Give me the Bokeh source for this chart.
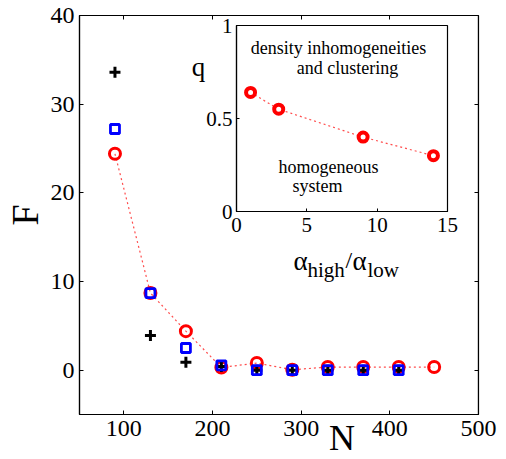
import math
from bokeh.plotting import figure
from bokeh.models import (Range1d, LinearAxis, FixedTicker, Label)
from bokeh.embed import file_html
from bokeh.resources import INLINE

# ---------------- data ----------------
N_circle = [90, 130, 170, 210, 250, 290, 330, 370, 410, 450]
F_circle = [24.4, 8.7, 4.4, 0.3, 0.8, 0.05, 0.35, 0.35, 0.35, 0.35]
N_square = [90, 130, 170, 210, 250, 290, 330, 370, 410]
F_square = [27.2, 8.7, 2.5, 0.55, 0.0, 0.0, 0.0, 0.0, 0.0]
N_plus = [90, 130, 170, 210, 250, 290, 330, 370, 410]
F_plus = [33.6, 3.9, 0.9, 0.4, 0.0, 0.0, 0.0, 0.0, 0.0]

alpha_ratio = [1, 3, 9, 14]
q_values = [0.64, 0.55, 0.40, 0.30]

x_ticks = [100, 200, 300, 400, 500]
y_ticks = [0, 10, 20, 30, 40]
x_lim = [50, 500]
y_lim = [-5, 40]
inset_x_ticks = [0, 5, 10, 15]
inset_y_ticks = [0, 0.5, 1]
inset_y_labels = ["0", "0.5", "1"]
inset_x_lim = [0, 15]
inset_y_lim = [0, 1]

FONT = "Liberation Serif"

# ---------------- layout (pixels) ----------------
FL, FT, FW, FH = 79, 15, 399, 399          # main frame in figure pixels
IL, IT, IR, IB = 236, 25, 447, 211         # inset frame in figure pixels
W, H = 506, 459

p = figure(frame_width=FW, frame_height=FH,
           x_range=tuple(x_lim), y_range=tuple(y_lim),
           min_border_left=FL, min_border_top=FT,
           min_border_right=W - FL - FW, min_border_bottom=H - FT - FH,
           output_backend="svg", toolbar_location=None)
p.xgrid.visible = False
p.ygrid.visible = False
p.outline_line_color = "black"
p.outline_line_width = 1.2
p.background_fill_color = "white"
p.border_fill_color = "white"

def px2x(px):
    return x_lim[0] + (px - FL) * (x_lim[1] - x_lim[0]) / FW

def px2y(py):
    return y_lim[1] - (py - FT) * (y_lim[1] - y_lim[0]) / FH

def style_axis(ax, ticks, size="24px", tick_in=4, standoff=5):
    ax.ticker = FixedTicker(ticks=ticks)
    ax.major_tick_in = tick_in
    ax.major_tick_out = 0
    ax.minor_tick_in = 0
    ax.minor_tick_out = 0
    ax.axis_line_color = "black"
    ax.axis_line_width = 1.2
    ax.major_tick_line_width = 1
    ax.major_label_text_font = FONT
    ax.major_label_text_font_size = size
    ax.major_label_text_color = "black"
    ax.major_label_standoff = standoff

style_axis(p.xaxis[0], x_ticks, standoff=6)
style_axis(p.yaxis[0], y_ticks, standoff=5)

# axis titles (N sits right of centre in the reference -> pad with no-break spaces)
for ax in (p.xaxis[0], p.yaxis[0]):
    ax.axis_label_text_font = FONT
    ax.axis_label_text_font_style = "normal"
    ax.axis_label_text_color = "black"
p.xaxis[0].axis_label = "\u00a0" * 14 + "N"
p.xaxis[0].axis_label_text_font_size = "36px"
p.xaxis[0].axis_label_standoff = -21
p.yaxis[0].axis_label = "F"
p.yaxis[0].axis_label_text_font_size = "38px"
p.yaxis[0].axis_label_standoff = 2

# mirror ticks on top/right
top = LinearAxis(fixed_location=y_lim[1])
style_axis(top, x_ticks)
top.major_label_overrides = {t: "" for t in x_ticks}
p.add_layout(top, "above")
right = LinearAxis(fixed_location=x_lim[1])
style_axis(right, y_ticks)
right.major_label_overrides = {t: "" for t in y_ticks}
p.add_layout(right, "right")

# ---------------- main series ----------------
RED = "#ff0000"
BLUE = "#0000ff"
p.line(N_circle, F_circle, line_color=RED, line_dash="2 3", line_width=1.2, line_alpha=0.7)
p.scatter(N_circle, F_circle, marker="circle", size=11, fill_color=None,
          line_color=RED, line_width=3)
p.scatter(N_plus, F_plus, marker="cross", size=11, line_color="black", line_width=3)
p.scatter(N_square, F_square, marker="square", size=9, fill_color=None,
          line_color=BLUE, line_width=2.8)

# ---------------- inset ----------------
ix_span = inset_x_lim[1] - inset_x_lim[0]
iy_span = inset_y_lim[1] - inset_y_lim[0]
ix0 = inset_x_lim[0] - (IL - FL) * ix_span / (IR - IL)
ix1 = inset_x_lim[1] + (FL + FW - IR) * ix_span / (IR - IL)
iy0 = inset_y_lim[0] - (FT + FH - IB) * iy_span / (IB - IT)
iy1 = inset_y_lim[1] + (IT - FT) * iy_span / (IB - IT)
p.extra_x_ranges = {"ix": Range1d(ix0, ix1)}
p.extra_y_ranges = {"iy": Range1d(iy0, iy1)}

p.quad(left=[inset_x_lim[0]], right=[inset_x_lim[1]],
       bottom=[inset_y_lim[0]], top=[inset_y_lim[1]],
       x_range_name="ix", y_range_name="iy",
       fill_color="white", line_color="black", line_width=1.2)

iax = LinearAxis(x_range_name="ix", y_range_name="iy", fixed_location=inset_y_lim[0],
                 bounds=tuple(inset_x_lim))
style_axis(iax, inset_x_ticks, size="21px", tick_in=3, standoff=6)
p.add_layout(iax, "below")
iay = LinearAxis(x_range_name="ix", y_range_name="iy", fixed_location=inset_x_lim[0],
                 bounds=tuple(inset_y_lim))
style_axis(iay, inset_y_ticks, size="21px", tick_in=3, standoff=4)
iay.major_label_overrides = dict(zip(inset_y_ticks, inset_y_labels))
p.add_layout(iay, "left")

p.line(alpha_ratio, q_values, x_range_name="ix", y_range_name="iy",
       line_color=RED, line_dash="2 3", line_width=1.2, line_alpha=0.7)
p.scatter(alpha_ratio, q_values, x_range_name="ix", y_range_name="iy",
          marker="circle", size=9, fill_color="white", line_color=RED, line_width=4)

# ---------------- text inside the frame ----------------
def add_text(txt, px, py, size, align="center", baseline="alphabetic"):
    p.add_layout(Label(x=px2x(px), y=px2y(py),
                       text=txt, text_font=FONT, text_font_size=size,
                       text_align=align, text_baseline=baseline,
                       text_color="black"))

add_text("q", 198, 66, "27px")

add_text("density inhomogeneities", 338, 47, "18px")
add_text("and clustering", 347, 67, "18px")
add_text("homogeneous", 328, 166, "18px")
add_text("system", 317, 185, "18px")

add_text("\u03b1", 293, 260, "27px", align="left")
add_text("high", 307, 269, "21px", align="left")
add_text("/", 345, 259, "24px", align="left")
add_text("\u03b1", 352, 260, "27px", align="left")
add_text("low", 367, 269, "21px", align="left")

open("out.html", "w").write(file_html(p, INLINE))
